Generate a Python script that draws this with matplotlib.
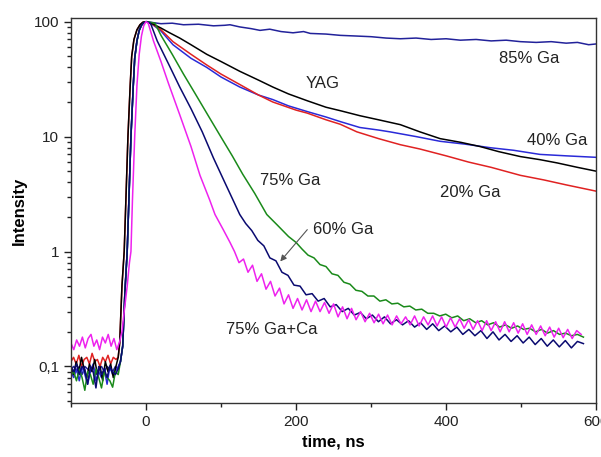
import matplotlib
matplotlib.use("Agg")
import matplotlib.pyplot as plt
import numpy as np
from matplotlib.ticker import MultipleLocator, LogLocator, NullFormatter

plt.rcParams['font.family'] = ['Liberation Sans', 'DejaVu Sans']

# baselines before the pulse (noisy)
yag_base = [0.10, 0.085, 0.11, 0.09, 0.12, 0.095, 0.08, 0.105, 0.09, 0.115, 0.085, 0.10, 0.075, 0.11, 0.09, 0.105, 0.08, 0.10]
red_base = [0.11, 0.12, 0.105, 0.125, 0.10, 0.115, 0.12, 0.105, 0.13, 0.11, 0.115, 0.10, 0.12, 0.11, 0.125, 0.105, 0.12, 0.115]
blue_base = [0.09, 0.08, 0.095, 0.075, 0.10, 0.085, 0.07, 0.09, 0.105, 0.075, 0.09, 0.08, 0.095, 0.07, 0.10, 0.085, 0.09, 0.10]
ga85_base = [0.095, 0.1, 0.09, 0.1, 0.085, 0.1, 0.095, 0.09, 0.1, 0.085, 0.095, 0.1, 0.09, 0.1, 0.095, 0.09, 0.1, 0.095]
green_base = [0.085, 0.09, 0.075, 0.095, 0.08, 0.062, 0.09, 0.085, 0.07, 0.095, 0.08, 0.065, 0.09, 0.08, 0.075, 0.066, 0.09, 0.085]
navy_base = [0.10, 0.09, 0.105, 0.085, 0.10, 0.095, 0.07, 0.10, 0.09, 0.065, 0.10, 0.085, 0.095, 0.08, 0.10, 0.09, 0.085, 0.095]
mag_base = [0.16, 0.14, 0.17, 0.15, 0.18, 0.145, 0.175, 0.19, 0.15, 0.17, 0.14, 0.18, 0.16, 0.19, 0.15, 0.175, 0.14, 0.165]

# rising edge
rise_t_early = [-37, -35, -32, -29, -27, -24, -21, -19, -16, -12, -8, -4, 0]
rise_i_early = [0.12, 0.16, 0.5, 1.0, 2.5, 10, 28, 50, 70, 85, 94, 99, 100]
rise_t_mid = [-34, -31, -28, -25, -23, -20, -17, -15, -12, -9, -6, -3, 1]
rise_i_mid = [0.11, 0.15, 0.45, 1.0, 2.5, 10, 27, 48, 68, 84, 93, 98, 100]
rise_t_mag = [-32, -29, -25, -22, -20, -18, -15, -12, -9, -6, -3, 0]
rise_i_mag = [0.2, 0.3, 0.5, 0.8, 1.0, 2.8, 10, 28, 52, 75, 92, 100]

# decays
yag_t = [10, 20, 30, 45, 60, 81, 100, 125, 150, 169, 190, 215, 240, 259, 285, 310, 339, 365, 392, 420, 445, 470, 499, 525, 548, 575, 600]
yag_i = [95, 88, 81, 72, 63, 52, 45, 37, 31, 27, 23.5, 20.5, 18, 16.8, 15.2, 14, 12.7, 11, 9.6, 8.9, 8.2, 7.4, 6.7, 6.3, 5.9, 5.4, 5.0]

red_t = [10, 20, 36, 60, 81, 100, 125, 150, 169, 200, 215, 240, 259, 281, 310, 339, 365, 400, 430, 460, 499, 530, 560, 600]
red_i = [94, 85, 67, 52, 42, 35, 28.4, 23, 20, 17, 16, 14, 12.8, 11, 9.6, 8.5, 7.8, 6.8, 6.0, 5.4, 4.6, 4.2, 3.8, 3.35]

blue_t = [10, 20, 36, 60, 81, 100, 125, 150, 169, 190, 215, 240, 259, 285, 310, 325, 360, 392, 425, 459, 490, 525, 560, 600]
blue_i = [93, 83, 63, 48, 40, 33, 27, 23, 21, 18.5, 16.5, 14.8, 13.5, 12.0, 11.4, 11.0, 10, 9.1, 8.6, 8.0, 7.6, 7.0, 6.8, 6.6]

ga85_t = [10, 20, 35, 50, 70, 90, 105, 112, 125, 140, 152, 165, 180, 196, 210, 219, 240, 259, 280, 300,
          320, 339, 360, 380, 400, 419, 440, 460, 480, 499, 520, 540, 560, 575, 590, 600]
ga85_i = [98, 96, 97, 94, 95, 92, 93, 94, 90, 87, 84, 86, 82, 80, 82, 79, 78, 76, 75, 74,
          72, 71, 72, 70, 71, 69, 70, 68, 69, 67, 66, 67, 65, 66, 63, 64]

green_t = [12, 20, 35, 50, 65, 83, 100, 115, 129, 145, 161, 175, 190, 200]
green_i = [97, 76, 52, 35, 24, 15.2, 9.9, 6.8, 4.7, 3.2, 2.1, 1.7, 1.35, 1.2]
green_tail = [1.05, 0.93, 0.88, 0.77, 0.74, 0.64, 0.62, 0.54, 0.52, 0.46,
              0.45, 0.41, 0.41, 0.37, 0.38, 0.35, 0.355, 0.33, 0.335, 0.31,
              0.315, 0.29, 0.29, 0.275, 0.285, 0.265, 0.275, 0.25, 0.26, 0.24,
              0.25, 0.23, 0.24, 0.22, 0.23, 0.215, 0.225, 0.21, 0.215, 0.20,
              0.21, 0.195, 0.205, 0.19, 0.195, 0.185, 0.19, 0.18]

navy_t = [6, 15, 30, 45, 60, 75, 90, 105, 115, 125]
navy_i = [97, 68, 43, 27, 17.5, 11, 6.5, 4.0, 2.9, 2.1]
navy_tail = [1.75, 1.52, 1.25, 1.12, 0.88, 0.83, 0.66, 0.62, 0.51, 0.50,
             0.42, 0.43, 0.37, 0.39, 0.33, 0.345, 0.30, 0.32, 0.28, 0.295,
             0.26, 0.28, 0.245, 0.27, 0.235, 0.255, 0.23, 0.25, 0.22, 0.24,
             0.21, 0.235, 0.205, 0.225, 0.20, 0.22, 0.19, 0.21, 0.185, 0.205,
             0.175, 0.20, 0.17, 0.19, 0.165, 0.185, 0.16, 0.18, 0.155, 0.175,
             0.15, 0.17, 0.148, 0.168, 0.145, 0.165, 0.158]

mag_t = [3, 10, 20, 30, 45, 60, 72, 85, 92, 103, 112]
mag_i = [97, 68, 45, 29, 15.5, 8.2, 4.6, 2.8, 2.1, 1.55, 1.2]
mag_tail = [1.0, 0.80, 0.86, 0.66, 0.76, 0.55, 0.64, 0.47, 0.55, 0.41,
            0.48, 0.35, 0.42, 0.32, 0.39, 0.31, 0.38, 0.30, 0.37, 0.30,
            0.36, 0.29, 0.35, 0.27, 0.33, 0.26, 0.32, 0.255, 0.30, 0.245,
            0.29, 0.24, 0.285, 0.235, 0.28, 0.23, 0.275, 0.235, 0.27, 0.23,
            0.275, 0.225, 0.27, 0.23, 0.275, 0.225, 0.27, 0.22, 0.265, 0.22,
            0.26, 0.215, 0.255, 0.21, 0.25, 0.205, 0.25, 0.205, 0.245, 0.20,
            0.245, 0.20, 0.24, 0.195, 0.235, 0.19, 0.23, 0.19, 0.225, 0.185,
            0.22, 0.18, 0.215, 0.178, 0.21, 0.175, 0.205, 0.19]


def build(base, rt, ri, dt, di, tail=None, tail_span=None):
    t0 = rt[0] - 3
    t = list(np.linspace(-100, t0, len(base))) + list(rt) + list(dt)
    y = list(base) + list(ri) + list(di)
    if tail is not None:
        t += list(np.linspace(tail_span[0], tail_span[1], len(tail)))
        y += list(tail)
    return t, y


fig = plt.figure(figsize=(6.01, 4.57), dpi=100)
ax = fig.add_axes([0.118, 0.118, 0.874, 0.843])

lw = 1.1
curves = [
    (build(ga85_base, rise_t_mid, rise_i_mid, ga85_t, ga85_i), '#22229a'),
    (build(blue_base, rise_t_mid, rise_i_mid, blue_t, blue_i), '#2a2ad8'),
    (build(red_base, rise_t_early, rise_i_early, red_t, red_i), '#e02222'),
    (build(yag_base, rise_t_early, rise_i_early, yag_t, yag_i), '#000000'),
    (build(green_base, rise_t_mid, rise_i_mid, green_t, green_i, green_tail, (208, 583)), '#1a8a1a'),
    (build(navy_base, rise_t_mid, rise_i_mid, navy_t, navy_i, navy_tail, (133, 583)), '#0a0a70'),
    (build(mag_base, rise_t_mag, rise_i_mag, mag_t, mag_i, mag_tail, (118, 580)), '#ee22ee'),
]
for (t, y), c in curves:
    ax.plot(t, y, color=c, lw=lw)

ax.set_yscale('log')
ax.set_xlim(-100, 600)
ax.set_ylim(0.048, 108)

ax.set_xticks([0, 200, 400, 600])
ax.xaxis.set_minor_locator(MultipleLocator(100))
ax.set_yticks([0.1, 1, 10, 100])
ax.set_yticklabels(['0,1', '1', '10', '100'])
ax.yaxis.set_minor_locator(LogLocator(base=10, subs=np.arange(2, 10)))
ax.yaxis.set_minor_formatter(NullFormatter())
ax.tick_params(which='major', direction='out', length=5, width=1, labelsize=11, colors='#222222')
ax.tick_params(which='minor', direction='out', length=3, width=1, colors='#222222')
ax.tick_params(top=False, right=False, which='both')
for s in ax.spines.values():
    s.set_color('#333333')
    s.set_linewidth(1)

ax.set_xlabel('time, ns', fontsize=12, fontweight='bold', labelpad=4)
ax.set_ylabel('Intensity', fontsize=12, fontweight='bold', labelpad=5)

fs = 12
tc = '#222222'
ax.text(511, 47.7, '85% Ga', fontsize=fs, color=tc, ha='center', va='center')
ax.text(236, 28.9, 'YAG', fontsize=fs, color=tc, ha='center', va='center')
ax.text(548, 9.2, '40% Ga', fontsize=fs, color=tc, ha='center', va='center')
ax.text(432, 3.26, '20% Ga', fontsize=fs, color=tc, ha='center', va='center')
ax.text(192, 4.14, '75% Ga', fontsize=fs, color=tc, ha='center', va='center')
ax.text(263, 1.55, '60% Ga', fontsize=fs, color=tc, ha='center', va='center')
ax.text(168, 0.21, '75% Ga+Ca', fontsize=fs, color=tc, ha='center', va='center')
ax.annotate('', xy=(179, 0.82), xytext=(215, 1.55),
            arrowprops=dict(arrowstyle='-|>', color='#555555', lw=0.8,
                            mutation_scale=9, shrinkA=0, shrinkB=0))

fig.savefig('out.png', dpi=100)
